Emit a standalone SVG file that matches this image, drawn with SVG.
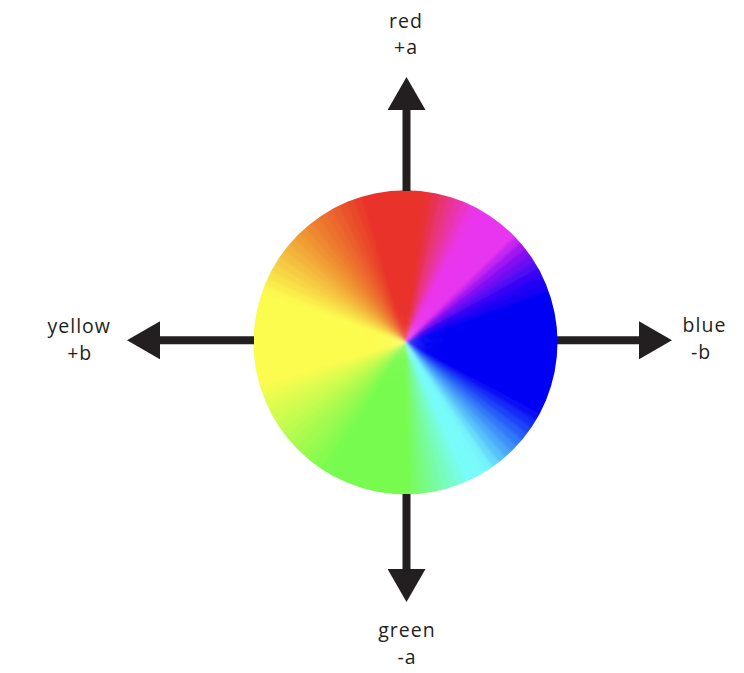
<svg xmlns="http://www.w3.org/2000/svg" xmlns:xlink="http://www.w3.org/1999/xlink" width="744" height="673" viewBox="0 0 744 673">
<style>
.lbl{font-family:"Open Sans","Noto Sans",sans-serif;font-size:19.5px;letter-spacing:1px;fill:#231F20;text-anchor:middle}
.ax{stroke:#231F20;stroke-width:8;fill:none}
</style>
<defs>
<marker id="ah" viewBox="0 0 33 38" markerWidth="33" markerHeight="38" refX="0" refY="19" orient="auto" markerUnits="userSpaceOnUse"><path d="M0 0L33 19L0 38Z" fill="#231F20"/></marker>
<path id="w" d="M0 0L-5.584 -159.903A160 160 0 0 1 5.584 -159.903Z"/>
<clipPath id="cc"><circle cx="405.5" cy="342.3" r="152"/></clipPath>
<filter id="bl" x="-10%" y="-10%" width="120%" height="120%"><feGaussianBlur stdDeviation="1.8"/></filter>
</defs>
<rect width="744" height="673" fill="#FFFFFF"/>
<g id="wheel" clip-path="url(#cc)">
<g filter="url(#bl)" transform="translate(405.5 342.3)">
<use href="#w" transform="rotate(0)" fill="#E8332A"/>
<use href="#w" transform="rotate(3)" fill="#E8332A"/>
<use href="#w" transform="rotate(6)" fill="#E8332A"/>
<use href="#w" transform="rotate(9)" fill="#E83334"/>
<use href="#w" transform="rotate(12)" fill="#E83351"/>
<use href="#w" transform="rotate(15)" fill="#E9346F"/>
<use href="#w" transform="rotate(18)" fill="#E9348C"/>
<use href="#w" transform="rotate(21)" fill="#E934A9"/>
<use href="#w" transform="rotate(24)" fill="#EA35C7"/>
<use href="#w" transform="rotate(27)" fill="#EA35E4"/>
<use href="#w" transform="rotate(30)" fill="#EA35EE"/>
<use href="#w" transform="rotate(33)" fill="#EA35EE"/>
<use href="#w" transform="rotate(36)" fill="#E935EF"/>
<use href="#w" transform="rotate(39)" fill="#E935EF"/>
<use href="#w" transform="rotate(42)" fill="#E835F0"/>
<use href="#w" transform="rotate(45)" fill="#E835F0"/>
<use href="#w" transform="rotate(48)" fill="#C527F1"/>
<use href="#w" transform="rotate(51)" fill="#A219F2"/>
<use href="#w" transform="rotate(54)" fill="#8411F3"/>
<use href="#w" transform="rotate(57)" fill="#690CF4"/>
<use href="#w" transform="rotate(60)" fill="#4E07F4"/>
<use href="#w" transform="rotate(63)" fill="#3604F5"/>
<use href="#w" transform="rotate(66)" fill="#2402F5"/>
<use href="#w" transform="rotate(69)" fill="#1201F5"/>
<use href="#w" transform="rotate(72)" fill="#0000F5"/>
<use href="#w" transform="rotate(75)" fill="#0000F5"/>
<use href="#w" transform="rotate(78)" fill="#0000F5"/>
<use href="#w" transform="rotate(81)" fill="#0000F5"/>
<use href="#w" transform="rotate(84)" fill="#0000F5"/>
<use href="#w" transform="rotate(87)" fill="#0000F5"/>
<use href="#w" transform="rotate(90)" fill="#0000F5"/>
<use href="#w" transform="rotate(93)" fill="#0000F5"/>
<use href="#w" transform="rotate(96)" fill="#0000F5"/>
<use href="#w" transform="rotate(99)" fill="#0000F5"/>
<use href="#w" transform="rotate(102)" fill="#0000F5"/>
<use href="#w" transform="rotate(105)" fill="#0000F5"/>
<use href="#w" transform="rotate(108)" fill="#0000F5"/>
<use href="#w" transform="rotate(111)" fill="#0000F5"/>
<use href="#w" transform="rotate(114)" fill="#0000F5"/>
<use href="#w" transform="rotate(117)" fill="#0000F5"/>
<use href="#w" transform="rotate(120)" fill="#0711F5"/>
<use href="#w" transform="rotate(123)" fill="#122BF6"/>
<use href="#w" transform="rotate(126)" fill="#1D45F7"/>
<use href="#w" transform="rotate(129)" fill="#275EF7"/>
<use href="#w" transform="rotate(132)" fill="#3278F8"/>
<use href="#w" transform="rotate(135)" fill="#3F90F8"/>
<use href="#w" transform="rotate(138)" fill="#4CA9F9"/>
<use href="#w" transform="rotate(141)" fill="#59C1F9"/>
<use href="#w" transform="rotate(144)" fill="#67DAFA"/>
<use href="#w" transform="rotate(147)" fill="#74F2FA"/>
<use href="#w" transform="rotate(150)" fill="#78FAFA"/>
<use href="#w" transform="rotate(153)" fill="#78FBF9"/>
<use href="#w" transform="rotate(156)" fill="#78FCF8"/>
<use href="#w" transform="rotate(159)" fill="#78FCE3"/>
<use href="#w" transform="rotate(162)" fill="#78FCCE"/>
<use href="#w" transform="rotate(165)" fill="#78FCB9"/>
<use href="#w" transform="rotate(168)" fill="#78FBA4"/>
<use href="#w" transform="rotate(171)" fill="#78FB8F"/>
<use href="#w" transform="rotate(174)" fill="#78FB7A"/>
<use href="#w" transform="rotate(177)" fill="#78FB65"/>
<use href="#w" transform="rotate(180)" fill="#78FB50"/>
<use href="#w" transform="rotate(183)" fill="#78FB50"/>
<use href="#w" transform="rotate(186)" fill="#78FB50"/>
<use href="#w" transform="rotate(189)" fill="#78FB50"/>
<use href="#w" transform="rotate(192)" fill="#78FB50"/>
<use href="#w" transform="rotate(195)" fill="#78FB50"/>
<use href="#w" transform="rotate(198)" fill="#78FB50"/>
<use href="#w" transform="rotate(201)" fill="#78FB50"/>
<use href="#w" transform="rotate(204)" fill="#78FB50"/>
<use href="#w" transform="rotate(207)" fill="#78FB50"/>
<use href="#w" transform="rotate(210)" fill="#78FB50"/>
<use href="#w" transform="rotate(213)" fill="#7BFB50"/>
<use href="#w" transform="rotate(216)" fill="#84FB50"/>
<use href="#w" transform="rotate(219)" fill="#8DFB50"/>
<use href="#w" transform="rotate(222)" fill="#97FB50"/>
<use href="#w" transform="rotate(225)" fill="#A0FB50"/>
<use href="#w" transform="rotate(228)" fill="#A9FB50"/>
<use href="#w" transform="rotate(231)" fill="#B2FB50"/>
<use href="#w" transform="rotate(234)" fill="#BBFC50"/>
<use href="#w" transform="rotate(237)" fill="#C5FC50"/>
<use href="#w" transform="rotate(240)" fill="#CEFC50"/>
<use href="#w" transform="rotate(243)" fill="#D7FC50"/>
<use href="#w" transform="rotate(246)" fill="#E0FC50"/>
<use href="#w" transform="rotate(249)" fill="#EAFC50"/>
<use href="#w" transform="rotate(252)" fill="#F3FC50"/>
<use href="#w" transform="rotate(255)" fill="#FCFC50"/>
<use href="#w" transform="rotate(258)" fill="#FCFC50"/>
<use href="#w" transform="rotate(261)" fill="#FCFC50"/>
<use href="#w" transform="rotate(264)" fill="#FCFC50"/>
<use href="#w" transform="rotate(267)" fill="#FCFC50"/>
<use href="#w" transform="rotate(270)" fill="#FCFC50"/>
<use href="#w" transform="rotate(273)" fill="#FCFC50"/>
<use href="#w" transform="rotate(276)" fill="#FCFC50"/>
<use href="#w" transform="rotate(279)" fill="#FCFC50"/>
<use href="#w" transform="rotate(282)" fill="#FCFC50"/>
<use href="#w" transform="rotate(285)" fill="#FCFC50"/>
<use href="#w" transform="rotate(288)" fill="#FCFC50"/>
<use href="#w" transform="rotate(291)" fill="#FCF84F"/>
<use href="#w" transform="rotate(294)" fill="#FAED4C"/>
<use href="#w" transform="rotate(297)" fill="#F9E148"/>
<use href="#w" transform="rotate(300)" fill="#F7D645"/>
<use href="#w" transform="rotate(303)" fill="#F6CB42"/>
<use href="#w" transform="rotate(306)" fill="#F4BF3F"/>
<use href="#w" transform="rotate(309)" fill="#F3B43C"/>
<use href="#w" transform="rotate(312)" fill="#F2A838"/>
<use href="#w" transform="rotate(315)" fill="#F09D35"/>
<use href="#w" transform="rotate(318)" fill="#EF9232"/>
<use href="#w" transform="rotate(321)" fill="#EE8630"/>
<use href="#w" transform="rotate(324)" fill="#ED7C2F"/>
<use href="#w" transform="rotate(327)" fill="#EC722E"/>
<use href="#w" transform="rotate(330)" fill="#EC672E"/>
<use href="#w" transform="rotate(333)" fill="#EB5D2D"/>
<use href="#w" transform="rotate(336)" fill="#EA522C"/>
<use href="#w" transform="rotate(339)" fill="#E9482B"/>
<use href="#w" transform="rotate(342)" fill="#E93D2B"/>
<use href="#w" transform="rotate(345)" fill="#E8332A"/>
<use href="#w" transform="rotate(348)" fill="#E8332A"/>
<use href="#w" transform="rotate(351)" fill="#E8332A"/>
<use href="#w" transform="rotate(354)" fill="#E8332A"/>
<use href="#w" transform="rotate(357)" fill="#E8332A"/>
</g>
</g>
<g id="connectors">
<line class="ax" x1="406.5" y1="191" x2="406.5" y2="110" marker-end="url(#ah)"/>
<line class="ax" x1="406.5" y1="494" x2="406.5" y2="569" marker-end="url(#ah)"/>
<line class="ax" x1="254" y1="340.3" x2="160" y2="340.3" marker-end="url(#ah)"/>
<line class="ax" x1="557" y1="340.3" x2="639" y2="340.3" marker-end="url(#ah)"/>
</g>
<g id="label-red"><text class="lbl" x="406" y="27.5">red</text><text class="lbl" x="406" y="54">+a</text></g>
<g id="label-green"><text class="lbl" x="407" y="637">green</text><text class="lbl" x="407" y="664">-a</text></g>
<g id="label-yellow"><text class="lbl" x="79.2" y="333">yellow</text><text class="lbl" x="79.7" y="360">+b</text></g>
<g id="label-blue"><text class="lbl" x="704.5" y="332">blue</text><text class="lbl" x="701" y="359">-b</text></g>
</svg>
